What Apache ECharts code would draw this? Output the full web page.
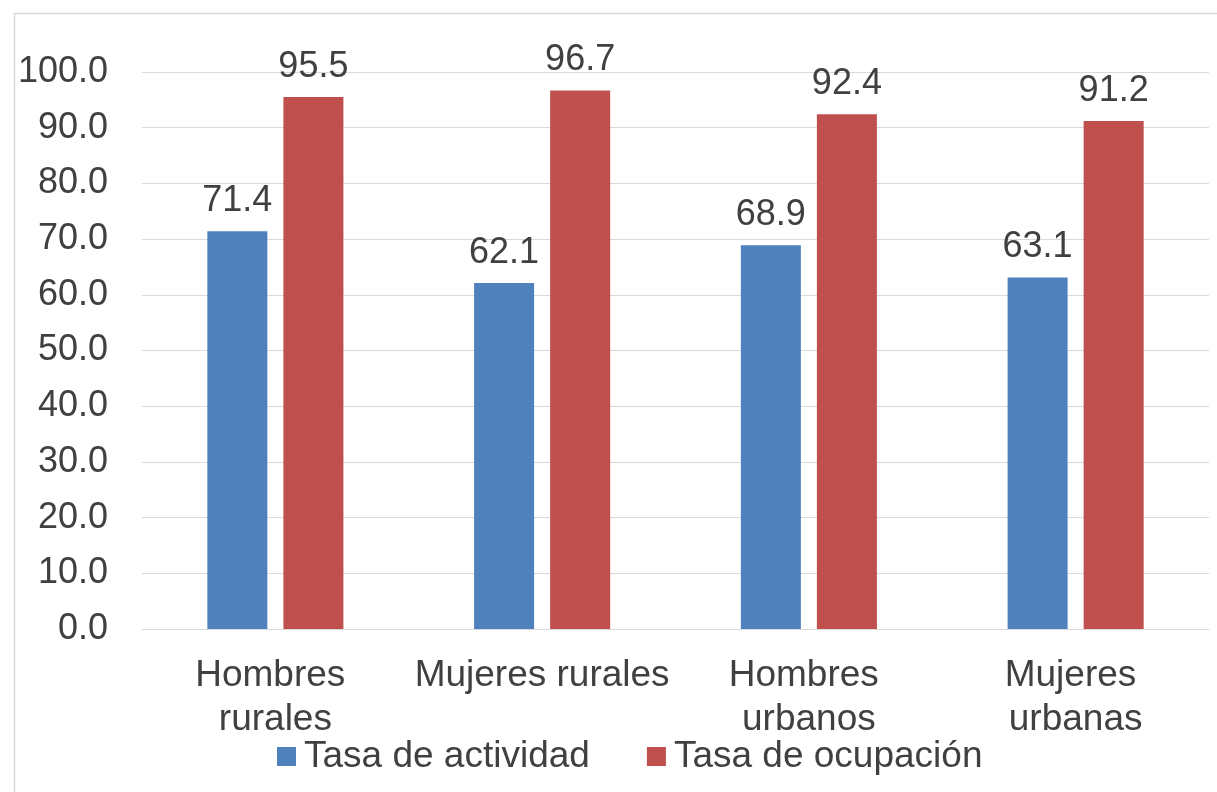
<!DOCTYPE html>
<html>
<head>
<meta charset="utf-8">
<script src="https://cdn.jsdelivr.net/npm/echarts@6/dist/echarts.min.js"></script>
<style>
html,body{margin:0;padding:0;background:#fff;}
#chart{width:1217px;height:792px;}
</style>
</head>
<body>
<div id="chart"></div>
<script>
const categories = ['Hombres rurales', 'Mujeres rurales', 'Hombres urbanos', 'Mujeres urbanas'];
const seriesNames = ['Tasa de actividad', 'Tasa de ocupación'];
const tasaActividad = [71.4, 62.1, 68.9, 63.1];
const tasaOcupacion = [95.5, 96.7, 92.4, 91.2];

const FONT = '"Liberation Sans", Arial, sans-serif';
const TXT = '#404040';
const chart = echarts.init(document.getElementById('chart'), null, {renderer: 'canvas'});

const labelStyle = {
  show: true, position: 'top', distance: 12,
  color: TXT, fontSize: 36, fontFamily: FONT,
  formatter: p => p.value.toFixed(1)
};

chart.setOption({
  animation: false,
  backgroundColor: '#fff',
  textStyle: {fontFamily: FONT},
  graphic: [{
    type: 'rect', left: 12, top: 11, silent: true,
    shape: {width: 1400, height: 1000},
    style: {fill: 'none', stroke: '#d9d9d9', lineWidth: 1.5}
  }],
  grid: {left: 142, right: 8, top: 72, bottom: 163, containLabel: false},
  legend: {
    data: seriesNames,
    left: 272, top: 733,
    itemWidth: 19, itemHeight: 19, itemGap: 57,
    icon: 'rect',
    textStyle: {color: TXT, fontSize: 37, fontFamily: FONT, padding: [0, 0, 0, 3]}
  },
  xAxis: {
    type: 'category', data: categories,
    axisLine: {show: true, lineStyle: {color: '#d9d9d9', width: 1}},
    axisTick: {show: false},
    axisLabel: {
      color: TXT, fontSize: 37, fontFamily: FONT, lineHeight: 44,
      margin: 25, width: 262, overflow: 'break', interval: 0
    }
  },
  yAxis: {
    type: 'value', min: 0, max: 100, interval: 10,
    axisLine: {show: false}, axisTick: {show: false},
    splitLine: {lineStyle: {color: '#d9d9d9', width: 1}},
    axisLabel: {
      color: TXT, fontSize: 36, fontFamily: FONT, margin: 34,
      formatter: v => v.toFixed(1)
    }
  },
  series: [
    {name: seriesNames[0], type: 'bar', data: tasaActividad, barWidth: '22.5%', barGap: '26.7%',
     itemStyle: {color: '#4F81BD'}, label: labelStyle},
    {name: seriesNames[1], type: 'bar', data: tasaOcupacion, barWidth: '22.5%', barGap: '26.7%',
     itemStyle: {color: '#C0504D'}, label: labelStyle}
  ]
});
</script>
</body>
</html>
